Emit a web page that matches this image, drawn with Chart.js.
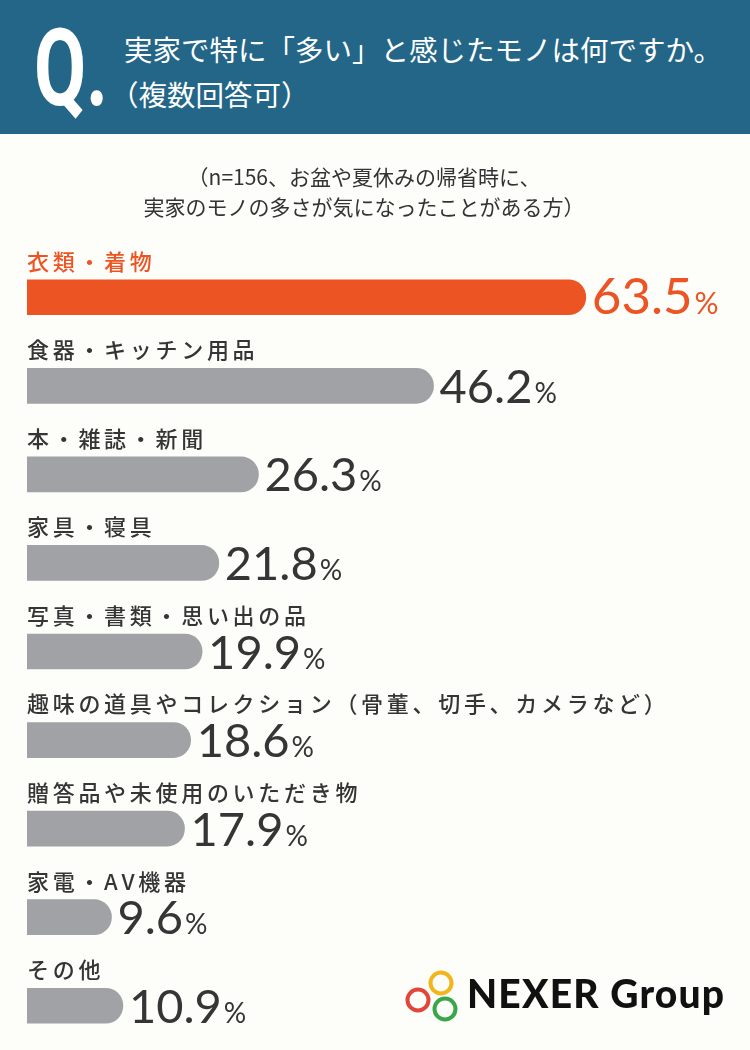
<!DOCTYPE html>
<html lang="ja">
<head>
<meta charset="utf-8">
<script src="https://cdn.jsdelivr.net/npm/chart.js@4.4.1/dist/chart.umd.min.js"></script>
<style>
  html, body { margin:0; padding:0; background:#fdfdf9; }
  body { width:750px; height:1050px; position:relative; overflow:hidden; font-family:"Noto Sans CJK JP", sans-serif; }
  #chart { position:absolute; left:0; top:0; }
  .band { position:absolute; left:0; top:0; width:750px; height:134px; background:#246687; }
  .q { position:absolute; left:34px; top:14px; color:#fff; font-family:Roboto, sans-serif; font-weight:700; font-size:108px; line-height:1; transform:scaleX(0.7); transform-origin:left top; }
  .title { position:absolute; left:124px; top:26px; color:#fff; font-size:28.5px; line-height:45px; white-space:nowrap; }
  .title .l2 { margin-left:-14px; }
  .sub { position:absolute; left:0; top:161px; width:728px; text-align:center; color:#333; font-size:21px; line-height:30px; }
  .logo { position:absolute; left:403px; top:966px; height:60px; }
  .logo span { position:absolute; left:64px; top:4px; font-family:Lato, sans-serif; font-weight:900; font-size:39px; color:#111; white-space:nowrap; letter-spacing:1.2px; }
</style>
</head>
<body>
<canvas id="chart" width="750" height="1050"></canvas>
<div class="band"></div>
<div class="q">Q.</div>
<div class="title">実家で特に「多い」と感じたモノは何ですか。<br><span class="l2">（複数回答可）</span></div>
<div class="sub">（n=156、お盆や夏休みの帰省時に、<br>実家のモノの多さが気になったことがある方）</div>
<div class="logo">
  <svg width="62" height="60" viewBox="0 0 62 60">
    <circle cx="15" cy="34" r="10.5" fill="none" stroke="#e2463a" stroke-width="4"/>
    <circle cx="38" cy="17" r="10.5" fill="none" stroke="#f2b51c" stroke-width="4"/>
    <circle cx="42" cy="43" r="10.5" fill="none" stroke="#3aa64a" stroke-width="4"/>
  </svg>
  <span>NEXER Group</span>
</div>
<script>
const categories = [
  '衣類・着物',
  '食器・キッチン用品',
  '本・雑誌・新聞',
  '家具・寝具',
  '写真・書類・思い出の品',
  '趣味の道具やコレクション（骨董、切手、カメラなど）',
  '贈答品や未使用のいただき物',
  '家電・AV機器',
  'その他'
];
const values = [63.5, 46.2, 26.3, 21.8, 19.9, 18.6, 17.9, 9.6, 10.9];
const highlight = [true, false, false, false, false, false, false, false, false];

const ORANGE = '#ec5424';
const GREY = '#a1a2a6';
const TEXT = '#353535';

// draws the category name above each bar and the value to its right
const barLabels = {
  id: 'barLabels',
  afterDatasetsDraw(chart) {
    const ctx = chart.ctx;
    const left = chart.chartArea.left;
    chart.getDatasetMeta(0).data.forEach((bar, i) => {
      const col = highlight[i] ? ORANGE : TEXT;
      ctx.save();
      ctx.fillStyle = col;
      ctx.textBaseline = 'middle';
      ctx.font = '500 22px "Noto Sans CJK JP"';
      let x = left;
      for (const ch of categories[i]) {
        ctx.fillText(ch, x, bar.y - 36);
        x += ctx.measureText(ch).width + 3.7;
      }
      ctx.textBaseline = 'alphabetic';
      const num = values[i].toFixed(1);
      const base = bar.y + 17;
      ctx.font = (highlight[i] ? '400 51px' : '400 47px') + ' Lato';
      ctx.fillText(num, bar.x + 6, base);
      const w = ctx.measureText(num).width;
      ctx.font = (highlight[i] ? '400 30px' : '400 28px') + ' Lato';
      ctx.fillText('%', bar.x + 8 + w, base);
      ctx.restore();
    });
  }
};

new Chart(document.getElementById('chart'), {
  type: 'bar',
  data: {
    labels: categories,
    datasets: [{
      data: values,
      backgroundColor: highlight.map(h => h ? ORANGE : GREY),
      borderRadius: 17.5,
      borderSkipped: 'start',
      barThickness: 35
    }]
  },
  options: {
    indexAxis: 'y',
    responsive: false,
    animation: false,
    layout: { padding: { left: 27, right: 107, top: 253, bottom: 0 } },
    scales: {
      x: { display: false, min: 0, max: 70 },
      y: { display: false }
    },
    plugins: { legend: { display: false }, tooltip: { enabled: false } }
  },
  plugins: [barLabels]
});
</script>
</body>
</html>
